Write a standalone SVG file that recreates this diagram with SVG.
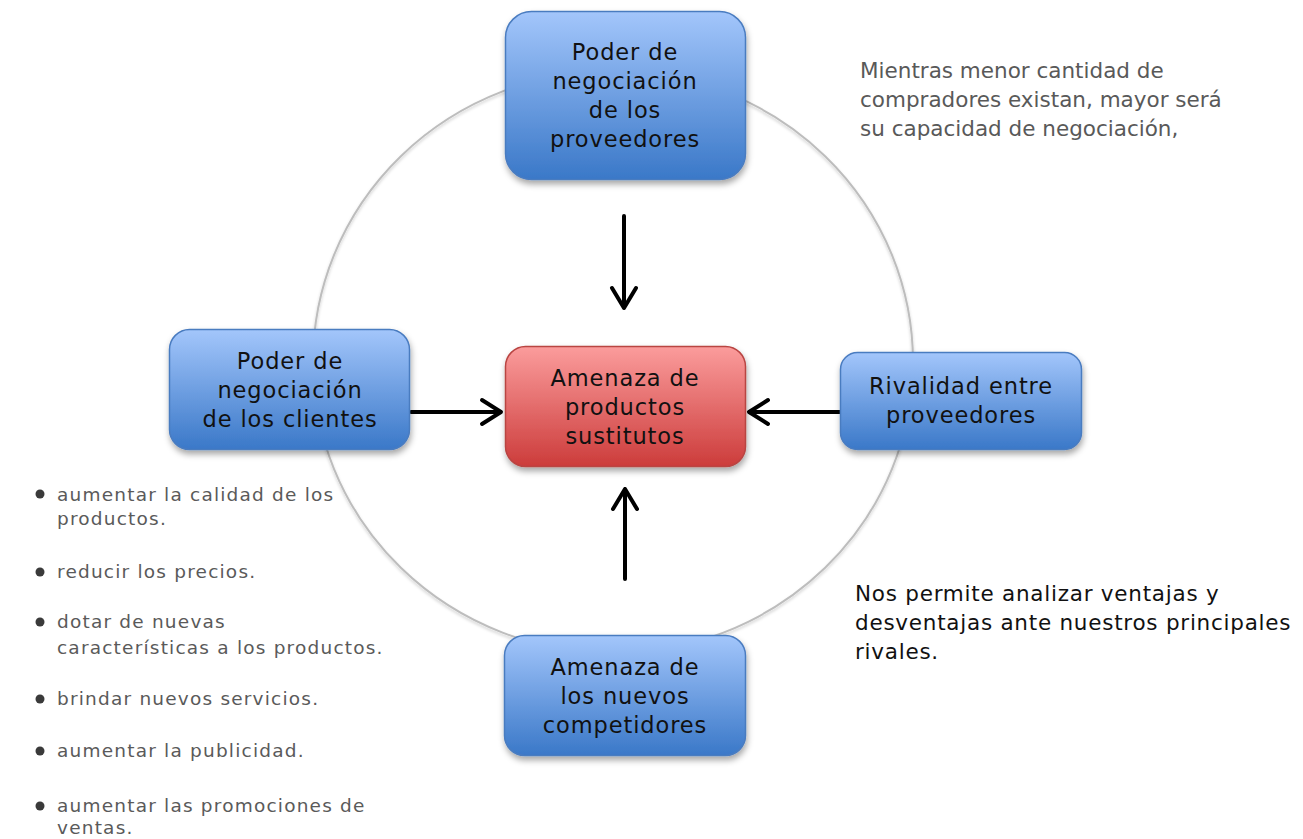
<svg xmlns="http://www.w3.org/2000/svg" width="1303" height="839" viewBox="0 0 1303 839">
<defs>
<linearGradient id="gBlue" x1="0" y1="0" x2="0" y2="1">
<stop offset="0" stop-color="#a3c6fb"/>
<stop offset="1" stop-color="#3a78c8"/>
</linearGradient>
<linearGradient id="gRed" x1="0" y1="0" x2="0" y2="1">
<stop offset="0" stop-color="#fb9c9c"/>
<stop offset="1" stop-color="#cc3c3b"/>
</linearGradient>
<filter id="sh" x="-10%" y="-10%" width="130%" height="140%">
<feDropShadow dx="1" dy="4" stdDeviation="3" flood-color="#000" flood-opacity="0.35"/>
</filter>
<filter id="shc" x="-10%" y="-10%" width="120%" height="120%">
<feDropShadow dx="0" dy="2" stdDeviation="1.5" flood-color="#000" flood-opacity="0.2"/>
</filter>
</defs>
<style>
.blue{fill:url(#gBlue);stroke:#4a7cc0;stroke-width:1.5}
.red{fill:url(#gRed);stroke:#b94442;stroke-width:1.5}
.lbl{font-family:"DejaVu Sans",sans-serif;font-size:22.5px;letter-spacing:0.9px;fill:#111;text-anchor:middle}
.note{font-family:"DejaVu Sans",sans-serif;font-size:21.5px}
.bul{font-family:"DejaVu Sans",sans-serif;font-size:18.5px;letter-spacing:1.2px;fill:#5a5a5a}
.arr{stroke:#000;stroke-width:4;fill:none;stroke-linecap:round;stroke-linejoin:round}
</style>
<rect width="1303" height="839" fill="#fff"/>
<ellipse cx="613" cy="362" rx="300" ry="291" fill="none" stroke="#bdbdbd" stroke-width="2" filter="url(#shc)"/>
<g id="connectors">
<path class="arr" d="M624,216 V308 M612,288 L624,308 L636,288"/>
<path class="arr" d="M625,579 V489 M613,509 L625,489 L637,509"/>
<path class="arr" d="M411,412 H501 M482,400 L501,412 L482,424"/>
<path class="arr" d="M840,412 H749 M768,400 L749,412 L768,424"/>
</g>
<g id="n-proveedores">
<rect class="blue" x="505.5" y="11.5" width="240" height="168" rx="26" filter="url(#sh)"/>
<text class="lbl"><tspan x="625" y="60">Poder de</tspan><tspan x="625" y="89">negociación</tspan><tspan x="625" y="118">de los</tspan><tspan x="625" y="147">proveedores</tspan></text>
</g>
<g id="n-clientes">
<rect class="blue" x="169.5" y="329.5" width="240" height="120" rx="20" filter="url(#sh)"/>
<text class="lbl"><tspan x="290" y="369">Poder de</tspan><tspan x="290" y="398">negociación</tspan><tspan x="290" y="427">de los clientes</tspan></text>
</g>
<g id="n-sustitutos">
<rect class="red" x="505.5" y="346.5" width="240" height="120" rx="20" filter="url(#sh)"/>
<text class="lbl"><tspan x="625" y="386">Amenaza de</tspan><tspan x="625" y="415">productos</tspan><tspan x="625" y="444">sustitutos</tspan></text>
</g>
<g id="n-rivalidad">
<rect class="blue" x="840.5" y="352.5" width="241" height="97" rx="17" filter="url(#sh)"/>
<text class="lbl"><tspan x="961" y="394">Rivalidad entre</tspan><tspan x="961" y="423">proveedores</tspan></text>
</g>
<g id="n-competidores">
<rect class="blue" x="504.5" y="635.5" width="241" height="120" rx="20" filter="url(#sh)"/>
<text class="lbl"><tspan x="625" y="675">Amenaza de</tspan><tspan x="625" y="704">los nuevos</tspan><tspan x="625" y="733">competidores</tspan></text>
</g>
<g id="note-compradores">
<text class="note" fill="#595959"><tspan x="860" y="78">Mientras menor cantidad de</tspan><tspan x="860" y="107">compradores existan, mayor será</tspan><tspan x="860" y="136">su capacidad de negociación,</tspan></text>
</g>
<g id="note-rivales">
<text class="note" fill="#111" font-size="23" letter-spacing="0.75"><tspan x="855" y="601">Nos permite analizar ventajas y</tspan><tspan x="855" y="630">desventajas ante nuestros principales</tspan><tspan x="855" y="659">rivales.</tspan></text>
</g>
<g id="bullets">
<g fill="#3a3a3a">
<circle cx="40" cy="494" r="4.5"/>
<circle cx="40" cy="572" r="4.5"/>
<circle cx="40" cy="622" r="4.5"/>
<circle cx="40" cy="699" r="4.5"/>
<circle cx="40" cy="751" r="4.5"/>
<circle cx="40" cy="806" r="4.5"/>
</g>
<text class="bul"><tspan x="57" y="501">aumentar la calidad de los</tspan><tspan x="57" y="525">productos.</tspan><tspan x="57" y="578">reducir los precios.</tspan><tspan x="57" y="628">dotar de nuevas</tspan><tspan x="57" y="654">características a los productos.</tspan><tspan x="57" y="705">brindar nuevos servicios.</tspan><tspan x="57" y="757">aumentar la publicidad.</tspan><tspan x="57" y="812">aumentar las promociones de</tspan><tspan x="57" y="834">ventas.</tspan></text>
</g>
</svg>
